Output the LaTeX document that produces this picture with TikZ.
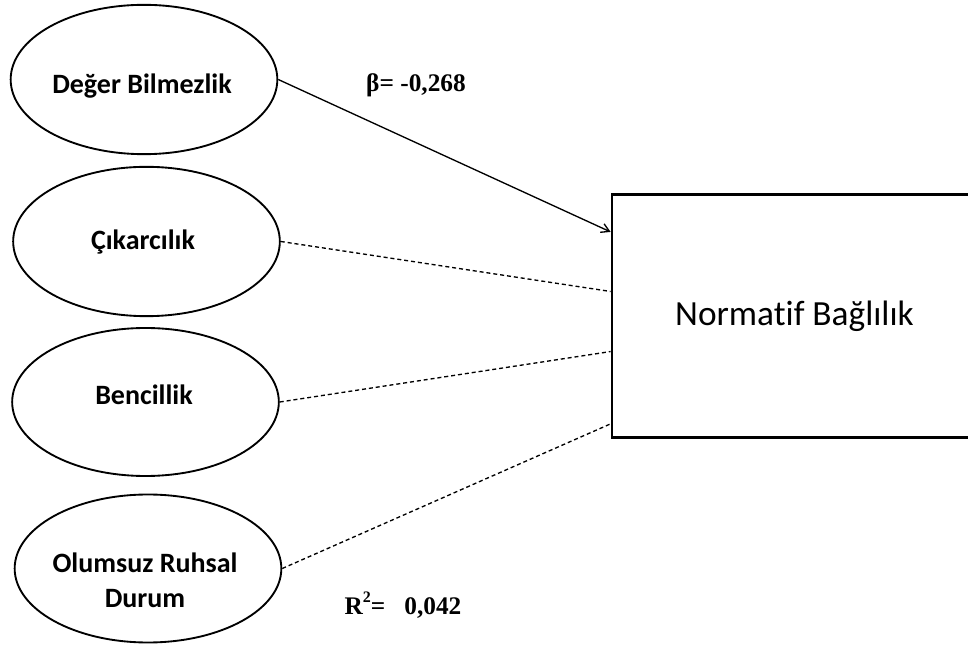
\documentclass[tikz,border=0pt]{standalone}
\usepackage{fontspec}
\setmainfont{Liberation Serif}
\newfontfamily\calibri[Ligatures=NoCommon]{Carlito}
\usetikzlibrary{shapes.geometric,arrows.meta,calc}
\begin{document}
\begin{tikzpicture}[x=0.75pt,y=-0.75pt,
  latent/.style={ellipse,draw,line width=1.4pt,minimum width=200pt,minimum height=112pt,inner sep=0pt},
  lbl/.style={font=\calibri\bfseries\fontsize{21}{26}\selectfont,align=center,inner sep=0pt},
  outcome/.style={rectangle,draw,line width=1.8pt,minimum width=274pt,minimum height=182pt,
    font=\calibri\fontsize{26.5}{30}\selectfont},
  link/.style={line width=1pt},
  weak/.style={link,dash pattern=on 3pt off 2.2pt},
  stat/.style={font=\bfseries\fontsize{19}{23}\selectfont,inner sep=0pt}]
\useasboundingbox (0,0) rectangle (968,648);
\clip (0,0) rectangle (968,648);
\fill[white] (0,0) rectangle (968,648);

% predictors
\node[latent] (e1) at (144,79.5) {};
\node[latent] (e2) at (146.5,241.5) {};
\node[latent,minimum height=111pt] (e3) at (145.5,402) {};
\node[latent,minimum height=111pt] (e4) at (148,568.5) {};

\node[lbl] (t1) at (142,86) {Değer Bilmezlik};
\node[lbl] (t2) at (143,242) {Çıkarcılık};
\node[lbl] (t3) at (144,395) {Bencillik};
\node[lbl] (t4) at (145,580) {Olumsuz Ruhsal\\Durum};

% outcome
\node[outcome] (nb) at (794.5,316) {Normatif Bağlılık};

% paths
\coordinate (p1) at ($(nb.north west)!0.157!(nb.south west)$);
\coordinate (p2) at ($(nb.north west)!0.40!(nb.south west)$);
\coordinate (p3) at ($(nb.north west)!0.645!(nb.south west)$);
\coordinate (p4) at ($(nb.north west)!0.94!(nb.south west)$);

\draw[link,-{Straight Barb[length=6pt,width=7pt]}] (e1.east) -- (p1);
\draw[weak] (e2.east) -- (p2);
\draw[weak] (e3.east) -- (p3);
\draw[weak] (e4.east) -- (p4);

% statistics
\node[stat] (beta) at (416,85) {β= -0,268};
\node[stat] (rsq) at (403,605) {R\raisebox{1.0ex}{\fontsize{12}{12}\selectfont 2}=\hspace{0.75em}0,042};
\end{tikzpicture}
\end{document}
